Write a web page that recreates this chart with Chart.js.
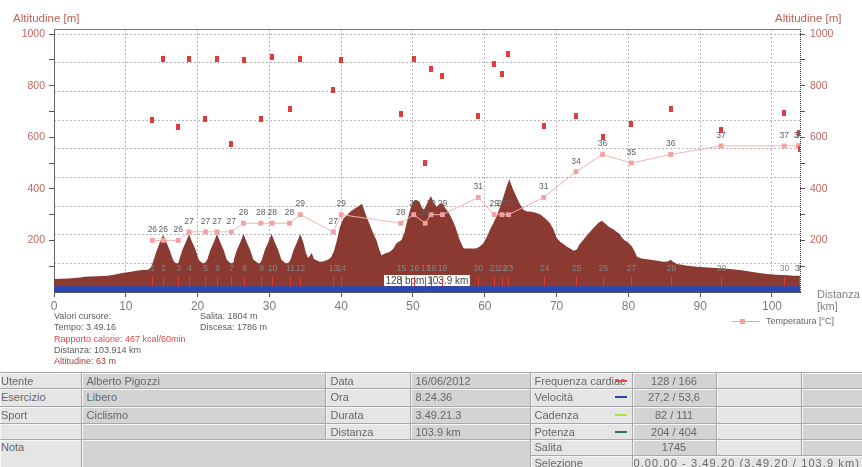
<!DOCTYPE html>
<html>
<head>
<meta charset="utf-8">
<title>Altitudine</title>
<script src="https://cdn.jsdelivr.net/npm/chart.js@4.4.1/dist/chart.umd.min.js"></script>
<style>
  html, body { margin: 0; padding: 0; background: #fff; }
  body { width: 862px; height: 467px; position: relative; overflow: hidden; font-family: 'Liberation Sans', Arial, sans-serif; }
  #profile { position: absolute; left: 0; top: 0; }
  .txt { position: absolute; white-space: nowrap; }
  .axis-title { font-size: 11.5px; color: #bf5f55; line-height: 14px; }
  .km-title { font-size: 11px; color: #808080; line-height: 12px; }
  .cursor { font-size: 9px; color: #5a5a5a; line-height: 11.3px; }
  .cursor .cal { color: #e8484a; }
  .cursor .alt { color: #b03a32; }
  .legend { font-size: 9px; color: #666; line-height: 11px; }
  .legend .ln { position: absolute; left: -34px; top: 5px; width: 28px; height: 1px; background: #f2a2a2; }
  .legend .sq { position: absolute; left: -26px; top: 3px; width: 5px; height: 5px; background: #f2a0a0; }
  #info { position: absolute; left: 0; top: 372px; width: 862px; border-collapse: collapse; table-layout: fixed;
          font-size: 11px; color: #686868; }
  #info td { border: 1px solid #a8a8a8; padding: 0 0 0 5px; line-height: 14px; white-space: nowrap;
             overflow: hidden; position: relative; box-shadow: inset 1px 1px 0 #f6f6f6; }
  #info td.l { background: #e5e5e5; }
  #info td.v { background: #d3d3d3; }
  #info td.c { text-align: center; padding-left: 0; }
  #info td.first { padding-left: 1px; border-left: none; }
  #info td.top { vertical-align: top; }
  #info td.sel { padding-left: 1px; letter-spacing: 1.1px; }
  #info .dash { position: absolute; left: 84px; top: 50%; margin-top: -1px; width: 12px; height: 2px; }
</style>
</head>
<body>
<canvas id="profile" width="862" height="320"></canvas>

<div class="txt axis-title" style="left:13px;top:11px;">Altitudine [m]</div>
<div class="txt axis-title" style="left:775px;top:11px;">Altitudine [m]</div>
<div class="txt km-title" style="left:817px;top:288px;">Distanza<br>[km]</div>

<div class="txt cursor" style="left:54px;top:311px;">
  Valori cursore:<br>
  Tempo: 3.49.16<br>
  <span class="cal">Rapporto calorie: 467 kcal/60min</span><br>
  Distanza: 103.914 km<br>
  <span class="alt">Altitudine: 63 m</span>
</div>
<div class="txt cursor" style="left:200px;top:311px;">
  Salita: 1804 m<br>
  Discesa: 1786 m
</div>
<div class="txt legend" style="left:766px;top:316px;"><span class="ln"></span><span class="sq"></span>Temperatura [°C]</div>

<table id="info">
  <colgroup>
    <col style="width:81px"><col style="width:244px"><col style="width:85px"><col style="width:120px">
    <col style="width:102px"><col style="width:84px"><col style="width:85px"><col style="width:61px">
  </colgroup>
  <tr style="height:16px">
    <td class="l first">Utente</td><td class="v">Alberto Pigozzi</td><td class="l">Data</td><td class="v">16/06/2012</td>
    <td class="l" style="padding-left:4px">Frequenza cardiac<span class="dash" style="background:#e04848"></span></td>
    <td class="v c">128 / 166</td><td class="l"></td><td class="v"></td>
  </tr>
  <tr style="height:17.5px">
    <td class="l first">Esercizio</td><td class="v">Libero</td><td class="l">Ora</td><td class="v">8.24.36</td>
    <td class="l" style="padding-left:4px">Velocità<span class="dash" style="background:#2a48b0"></span></td>
    <td class="v c">27,2 / 53,6</td><td class="l"></td><td class="v"></td>
  </tr>
  <tr style="height:17.5px">
    <td class="l first">Sport</td><td class="v">Ciclismo</td><td class="l">Durata</td><td class="v">3.49.21.3</td>
    <td class="l" style="padding-left:4px">Cadenza<span class="dash" style="background:#b4e03a"></span></td>
    <td class="v c">82 / 111</td><td class="l"></td><td class="v"></td>
  </tr>
  <tr style="height:16px">
    <td class="l first"></td><td class="v"></td><td class="l">Distanza</td><td class="v">103.9 km</td>
    <td class="l" style="padding-left:4px">Potenza<span class="dash" style="background:#2e7458"></span></td>
    <td class="v c">204 / 404</td><td class="l"></td><td class="v"></td>
  </tr>
  <tr style="height:15.5px">
    <td class="l first top" rowspan="2">Nota</td><td class="v" colspan="3" rowspan="2"></td>
    <td class="l" style="padding-left:4px">Salita</td><td class="v c">1745</td><td class="l"></td><td class="v"></td>
  </tr>
  <tr style="height:16px">
    <td class="l" style="padding-left:4px">Selezione</td>
    <td class="l sel" colspan="3">0.00.00 - 3.49.20 (3.49.20 / 103.9 km)</td>
  </tr>
</table>

<script>
// profilo altimetrico (km / m)
const altKm = [0, 2, 4, 4.2, 6, 7.5, 8.5, 9.5, 10.5, 11.5, 12.3, 13.1, 13.5, 13.8, 14.3, 14.75, 15.2,
  15.65, 16.1, 16.55, 16.85, 17.1, 17.35,
  17.45, 17.87, 18.35, 18.8, 19.25, 19.73, 20.15, 20.55, 20.8, 21.05,
  21.35, 21.77, 22.25, 22.7, 23.15, 23.63, 24.05, 24.45, 24.7, 24.95,
  25.05, 25.47, 25.95, 26.4, 26.85, 27.33, 27.75, 28.3, 28.55, 28.8,
  28.95, 29.37, 29.85, 30.3, 30.75, 31.23, 31.65, 32.1, 32.4, 32.7,
  32.95, 33.37, 33.85, 34.3, 34.75, 35.1, 35.4, 35.9, 36.2, 37.0, 37.5, 38.2, 38.6, 39.0, 39.4, 39.8,
  40.3, 40.8, 41.3, 41.9, 42.4, 42.9, 43.3, 43.7, 44.0, 44.5, 44.9, 45.3, 45.6, 46.2, 46.8, 47.3,
  47.7, 48.4, 48.8, 49.1, 49.6, 50.0, 50.3, 50.6, 50.9, 51.2, 51.5, 52.0, 52.5, 52.9, 53.3, 53.7,
  54.1, 54.5, 54.9, 55.4, 55.9, 56.5, 57.0, 57.2, 58.5, 58.9, 59.4, 59.8, 60.3, 60.7, 61.2, 61.7,
  62.2, 62.6, 63.0, 63.4, 63.9, 64.4, 64.9, 65.4, 65.9, 66.5, 67.2, 67.8, 68.2, 68.7, 69.1, 69.6,
  70.0, 70.5, 71.0, 71.4, 72.0, 72.4, 72.8, 73.2, 73.7, 74.4, 75.1, 75.8, 76.3, 76.8, 77.4, 77.8,
  78.3, 78.8, 79.1, 79.5, 79.8, 80.2, 80.5, 80.9, 81.2, 81.8, 82.6, 83.8, 84.9, 85.5, 85.9, 86.3,
  86.8, 88.0, 89.5, 91.0, 92.8, 94.5, 96.0, 97.5, 99.3, 100.5, 101.6, 103.0, 103.9];
const altM = [50, 52, 57, 59, 61, 63, 68, 74, 78, 82, 85, 86, 95, 117, 160, 193, 221,
  193, 163, 126, 114, 111, 114,
  126, 163, 193, 225, 193, 163, 126, 114, 111, 114,
  126, 163, 193, 225, 193, 163, 126, 114, 111, 114,
  126, 163, 193, 225, 193, 163, 126, 114, 110, 115,
  126, 163, 193, 225, 193, 163, 126, 114, 111, 114,
  126, 163, 193, 225, 190, 150, 132, 151, 128, 117, 118, 126, 135, 160, 200, 250,
  285, 298, 312, 324, 333, 342, 310, 280, 260, 225, 202, 165, 143, 150, 156, 170,
  189, 202, 230, 266, 320, 350, 357, 355, 350, 330, 318, 345, 372, 345, 331, 340,
  344, 325, 311, 285, 253, 202, 172, 169, 169, 170, 178, 189, 214, 240, 268, 298,
  335, 369, 405, 437, 400, 369, 340, 318, 312, 311, 306, 300, 290, 278, 266, 240,
  210, 195, 185, 176, 167, 160, 165, 185, 202, 225, 247, 268, 276, 265, 250, 245,
  235, 225, 210, 200, 195, 185, 176, 155, 137, 130, 127, 122, 117, 118, 125, 115,
  109, 103, 98, 95, 92, 88, 83, 77, 70, 67, 66, 63, 63];

// giri
const lapNo = [1, 2, 3, 4, 5, 6, 7, 8, 9, 10, 11, 12, 13, 14, 15, 16, 17, 18, 19, 20, 21, 22, 23, 24, 25, 26, 27, 28, 29, 30, 31, 32];
const lapKm = [13.7, 15.2, 17.3, 18.8, 21.1, 22.7, 24.7, 26.4, 28.8, 30.4, 32.8, 34.3, 38.9, 40.0, 48.3, 50.1,
  51.7, 52.5, 54.1, 59.1, 61.3, 62.4, 63.3, 68.2, 72.7, 76.4, 80.4, 85.9, 92.9, 101.7, 103.7, 103.85];
const lapTemp = [26, 26, 26, 27, 27, 27, 27, 28, 28, 28, 28, 29, 27, 29, 28, 29,
  28, 29, 29, 31, 29, 29, 29, 31, 34, 36, 35, 36, 37, 37, 37, 37];
const lapHr = [120, 163, 115, 163, 121, 163, 103, 162, 121, 164, 128, 163, 141, 162, 124, 163,
  90, 156, 151, 123, 159, 152, 166, 116, 123, 108, 117, 128, 113, 125, 111, 100];

// fascia velocità in basso
const bandKm = [0, 103.9];
const bandVal = [22, 22];

// assi
const kmTicks = [0, 10, 20, 30, 40, 50, 60, 70, 80, 90, 100];
const altTicks = [100, 200, 300, 400, 500, 600, 700, 800, 900, 1000];
const gridSteps = [1, 2, 3, 4, 5, 6, 7, 8, 9];
const cursorText = '128 bpm 103.9 km';

const altMax = 1020;
const tickRed = '#c4665c';

// marker rettangolare per la frequenza cardiaca
const hrMark = document.createElement('canvas');
hrMark.width = 4;
hrMark.height = 6;
const hctx = hrMark.getContext('2d');
hctx.fillStyle = '#e23a3f';
hctx.fillRect(0, 0, 4, 6);

const toXY = (xs, ys) => xs.map((v, i) => ({ x: v, y: ys[i] }));

// cornice, etichette giri e temperature
const overlay = {
    id: 'overlay',
    afterDatasetsDraw(chart) {
        const { ctx, chartArea: ca, scales: { x, y, t } } = chart;
        ctx.save();
        ctx.beginPath();
        ctx.rect(ca.left, ca.top - 20, ca.right - ca.left, ca.bottom - ca.top + 20);
        ctx.clip();

        // riquadro cursore
        ctx.font = '10px "Liberation Sans", Arial, sans-serif';
        const tw = ctx.measureText(cursorText).width;
        ctx.fillStyle = '#fff';
        ctx.fillRect(ca.left + 330, 275, tw + 3, 11);
        ctx.fillStyle = '#444';
        ctx.textBaseline = 'middle';
        ctx.textAlign = 'left';
        ctx.fillText(cursorText, ca.left + 331.5, 281);

        // linee e numeri dei giri
        ctx.strokeStyle = '#d83c3c';
        ctx.lineWidth = 1;
        ctx.font = '8.5px "Liberation Sans", Arial, sans-serif';
        ctx.textAlign = 'center';
        ctx.fillStyle = '#858585';
        const top = y.getPixelForValue(59);
        const bot = y.getPixelForValue(bandVal[0]);
        lapKm.forEach((km, i) => {
            const px = Math.round(x.getPixelForValue(km)) + 0.5;
            ctx.beginPath();
            ctx.moveTo(px, top);
            ctx.lineTo(px, bot);
            ctx.stroke();
            ctx.fillText(String(lapNo[i]), px, top - 8.5);
        });

        ctx.restore();
        ctx.save();
        ctx.beginPath();
        ctx.rect(ca.left, ca.top, ca.right - ca.left, ca.bottom - ca.top);
        ctx.clip();
        // valori temperatura
        ctx.font = '8.5px "Liberation Sans", Arial, sans-serif';
        ctx.textAlign = 'center';
        ctx.textBaseline = 'middle';
        ctx.fillStyle = '#5c5c5c';
        lapKm.forEach((km, i) => {
            ctx.fillText(String(lapTemp[i]), x.getPixelForValue(km), t.getPixelForValue(lapTemp[i]) - 10.5);
        });
        ctx.restore();

        // bordo superiore e asse destro punteggiato
        ctx.save();
        ctx.strokeStyle = '#7a7a7a';
        ctx.beginPath();
        ctx.moveTo(ca.left, ca.top + 0.5);
        ctx.lineTo(ca.right, ca.top + 0.5);
        ctx.stroke();
        ctx.strokeStyle = '#333';
        ctx.setLineDash([1, 1]);
        ctx.beginPath();
        ctx.moveTo(ca.right + 0.5, ca.top);
        ctx.lineTo(ca.right + 0.5, ca.bottom);
        ctx.stroke();
        ctx.restore();
    }
};

const altAxis = (pos, width, pad) => ({
    type: 'linear',
    position: pos,
    min: 0,
    max: altMax,
    afterBuildTicks: (s) => { s.ticks = altTicks.map(v => ({ value: v })); },
    afterFit: (s) => { s.width = width; },
    grid: { drawOnChartArea: false, drawTicks: true, tickLength: 5, tickColor: '#555', color: '#555' },
    border: { display: pos === 'left', color: '#666' },
    ticks: {
        autoSkip: false,
        padding: pad,
        color: tickRed,
        font: { size: 10.5 },
        callback: (v) => (v % 200 === 0 ? String(v) : '')
    }
});

Chart.defaults.font.family = '"Liberation Sans", Arial, sans-serif';

new Chart(document.getElementById('profile'), {
    type: 'line',
    data: {
        datasets: [
            {
                label: 'FC',
                data: toXY(lapKm, lapHr),
                yAxisID: 'hr',
                showLine: false,
                pointStyle: hrMark,
                pointRadius: 3,
                order: 0
            },
            {
                label: 'Temperatura [°C]',
                data: toXY(lapKm, lapTemp),
                yAxisID: 't',
                borderColor: '#f6b2b2',
                borderWidth: 1,
                pointStyle: 'rect',
                pointRadius: 3.4,
                pointBackgroundColor: '#f3a0a0',
                pointBorderWidth: 0,
                order: 1
            },
            {
                label: 'Velocità',
                data: toXY(bandKm, bandVal),
                yAxisID: 'y',
                fill: 'origin',
                backgroundColor: '#2849b4',
                borderWidth: 0,
                pointRadius: 0,
                order: 2
            },
            {
                label: 'Altitudine',
                data: toXY(altKm, altM),
                yAxisID: 'y',
                fill: 'origin',
                backgroundColor: '#8a3a31',
                borderColor: '#8a3a31',
                borderWidth: 0,
                pointRadius: 0,
                order: 3
            }
        ]
    },
    options: {
        responsive: false,
        animation: false,
        events: [],
        layout: { padding: { top: 29, left: 0, right: 0, bottom: 0 } },
        plugins: { legend: { display: false }, tooltip: { enabled: false } },
        scales: {
            x: {
                type: 'linear',
                min: 0,
                max: 103.9,
                afterBuildTicks: (s) => { s.ticks = kmTicks.map(v => ({ value: v })); },
                afterFit: (s) => { s.height = 28; },
                grid: { color: '#b4b4b4', tickColor: '#555', tickLength: 5, tickBorderDash: [] },
                border: { color: '#555', dash: [2, 2] },
                ticks: { color: '#7a7a7a', padding: 2, font: { size: 12 }, autoSkip: false, maxRotation: 0 }
            },
            y: altAxis('left', 54, 4),
            y2: altAxis('right', 62, 5),
            g: {
                type: 'linear',
                position: 'left',
                min: 0,
                max: 9 * altMax / 1000,
                afterBuildTicks: (s) => { s.ticks = gridSteps.map(v => ({ value: v })); },
                afterFit: (s) => { s.width = 0; },
                grid: { color: '#b4b4b4', drawTicks: false },
                border: { display: false, dash: [2, 2] },
                ticks: { display: false }
            },
            t: { type: 'linear', display: false, min: 20, max: 20 + 30 * altMax / 1000 },
            hr: { type: 'linear', display: false, min: 0, max: 180 * altMax / 1000 }
        }
    },
    plugins: [overlay]
});
</script>
</body>
</html>
